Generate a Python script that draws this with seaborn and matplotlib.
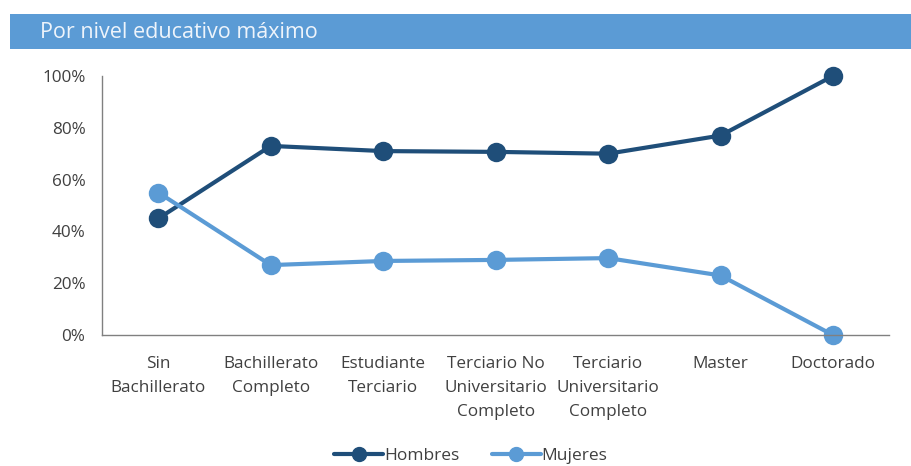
import numpy as np
import pandas as pd
import matplotlib
matplotlib.use("Agg")
import matplotlib.pyplot as plt
import seaborn as sns
from matplotlib.patches import Rectangle
from matplotlib.lines import Line2D

sns.set_style("white")
plt.rcParams['font.family'] = ['Open Sans', 'DejaVu Sans']

categories = ["Sin\nBachillerato", "Bachillerato\nCompleto", "Estudiante\nTerciario",
              "Terciario No\nUniversitario\nCompleto", "Terciario\nUniversitario\nCompleto",
              "Master", "Doctorado"]
hombres = [0.45, 0.73, 0.71, 0.707, 0.70, 0.77, 1.00]
mujeres = [0.55, 0.27, 0.286, 0.29, 0.297, 0.23, 0.00]
series_names = ["Hombres", "Mujeres"]
colors = ["#1F4E79", "#5B9BD5"]
yticks = [0, 0.2, 0.4, 0.6, 0.8, 1.0]

df = pd.DataFrame({
    "pos": list(range(len(categories))) * 2,
    "valor": hombres + mujeres,
    "sexo": [series_names[0]] * len(hombres) + [series_names[1]] * len(mujeres),
})

fig = plt.figure(figsize=(9.12, 4.66), dpi=100)
ax = fig.add_axes([0.112, 0.281, 0.863, 0.556])

sns.lineplot(data=df, x="pos", y="valor", hue="sexo", palette=colors,
             marker="o", markersize=14, linewidth=3, markeredgewidth=0,
             legend=False, ax=ax)
for line in ax.lines:
    line.set_clip_on(False)

ax.set_xlim(-0.5, len(categories) - 0.5)
ax.set_ylim(0, 1)
ax.set_yticks(yticks)
ax.set_yticklabels([f"{int(round(t*100))}%" for t in yticks])
ax.set_xticks(range(len(categories)))
ax.set_xticklabels(categories, linespacing=1.68, va="top")
ax.tick_params(axis="both", length=0, labelsize=12.3, colors="#404040")
ax.tick_params(axis="x", pad=15)
ax.tick_params(axis="y", pad=12)
ax.set_xlabel("")
ax.set_ylabel("")
for s in ["top", "right"]:
    ax.spines[s].set_visible(False)
for s in ["left", "bottom"]:
    ax.spines[s].set_color("#808080")
    ax.spines[s].set_linewidth(1.0)

# title bar
fig.patches.append(Rectangle((10/912, 1 - 49/466), 1, 35/466, transform=fig.transFigure,
                             facecolor="#5B9BD5", edgecolor="none"))
fig.text(40/912, 1 - 32/466, "Por nivel educativo máximo", color="#EEF4FB",
         fontsize=15.5, va="center", ha="left")

handles = [Line2D([0], [0], color=c, lw=3, marker="o", markersize=10) for c in colors]
fig.legend(handles, series_names, loc="center", bbox_to_anchor=(471/912, 1 - 456/466),
           ncol=2, frameon=False, fontsize=12.5, handlelength=2.8, columnspacing=1.9,
           handletextpad=0.05, labelcolor="#404040")

fig.savefig("out.png", dpi=100)
